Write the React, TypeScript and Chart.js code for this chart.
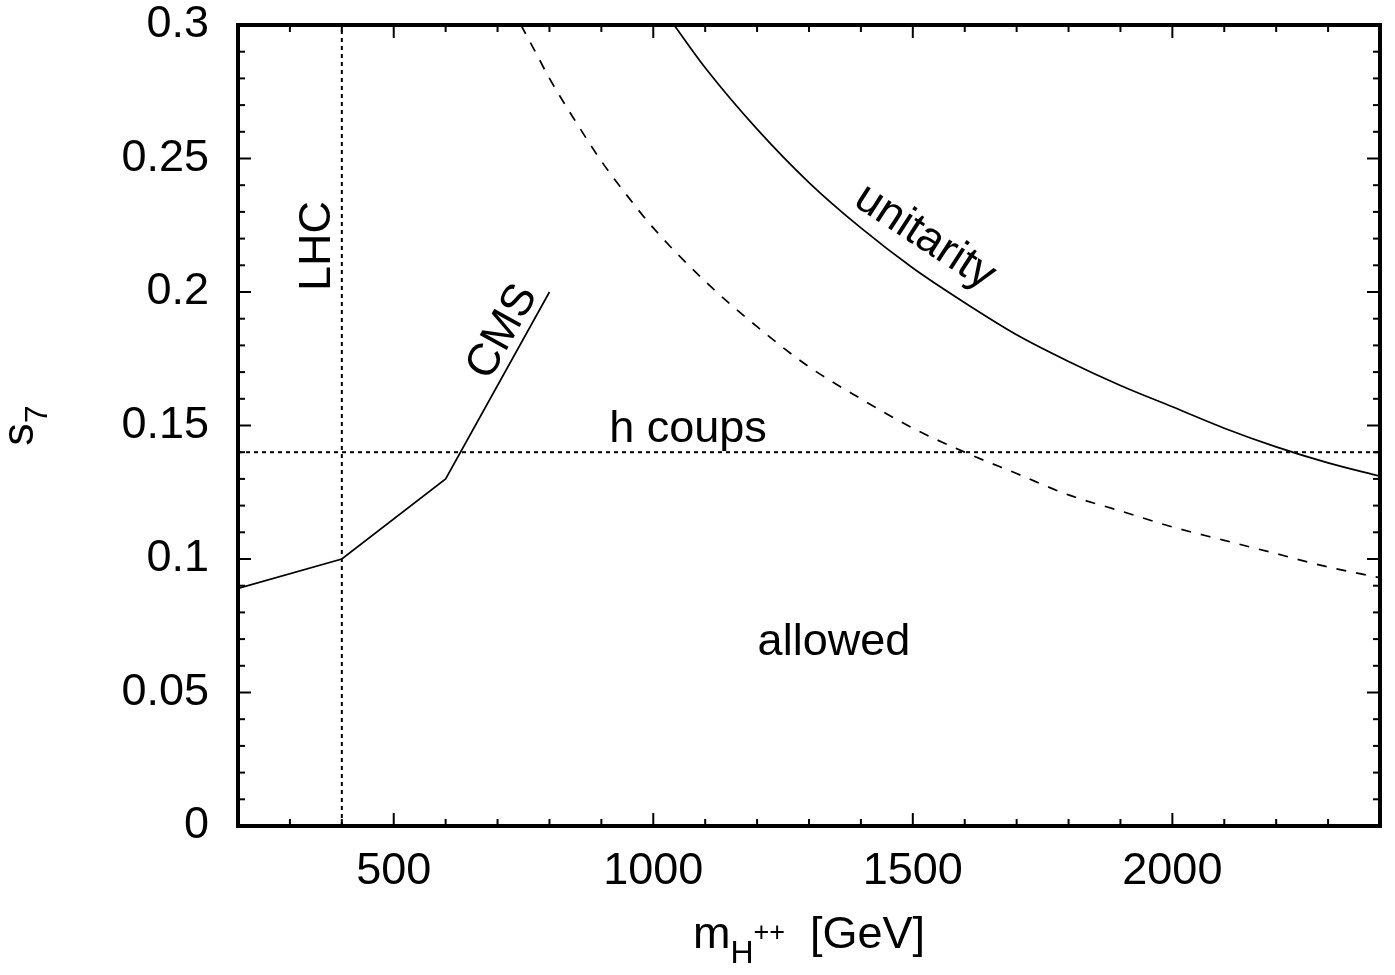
import React, { useEffect, useRef } from "react";
import { Chart, registerables } from "chart.js";

Chart.register(...registerables);

// ---- data ----
const xMajorTicks = [500, 1000, 1500, 2000];
const yMajorTicks = [0, 0.05, 0.1, 0.15, 0.2, 0.25, 0.3];
const yTickLabels = ["0", "0.05", "0.1", "0.15", "0.2", "0.25", "0.3"];

const cmsMass = [200, 400, 600, 800];
const cmsS7 = [0.089, 0.1, 0.13, 0.2];

const unitarityMass = [1040, 1100, 1200, 1300, 1400, 1500, 1600, 1700, 1800, 1900, 2000, 2100, 2200, 2300, 2400];
const unitarityS7 = [0.3, 0.284, 0.261, 0.241, 0.224, 0.209, 0.196, 0.184, 0.174, 0.165, 0.157, 0.149, 0.142, 0.136, 0.131];

const dashedMass = [745, 770, 800, 850, 900, 950, 1000, 1100, 1200, 1300, 1400, 1500, 1600, 1700, 1800, 1900, 2000, 2100, 2200, 2300, 2400];
const dashedS7 = [0.3, 0.291, 0.28, 0.264, 0.249, 0.236, 0.224, 0.204, 0.187, 0.172, 0.16, 0.149, 0.14, 0.132, 0.124, 0.118, 0.112, 0.107, 0.102, 0.097, 0.093];

const lhcMass = [400, 400];
const lhcS7 = [0, 0.3];

const hCoupsMass = [200, 2400];
const hCoupsS7 = [0.14, 0.14];

const annotationTexts = ["allowed", "h coups", "LHC", "CMS", "unitarity"];
const annotationMass = [1348, 1067, 377, 710, 1523];
const annotationS7 = [0.064, 0.1438, 0.2172, 0.185, 0.2206];

// ---- styling ----
const FONT = "'Liberation Sans', Arial, Helvetica, sans-serif";
const annotationStyle = [
  { rot: 0, baseline: "alphabetic" },
  { rot: 0, baseline: "alphabetic" },
  { rot: -90, baseline: "alphabetic" },
  { rot: -61, baseline: "middle" },
  { rot: 33, baseline: "middle" },
];

const pts = (xs: number[], ys: number[]) => xs.map((x, i) => ({ x, y: ys[i] }));

const framePlugin = {
  id: "frame",
  afterDraw(chart: any) {
    const { ctx, chartArea: a, scales } = chart;
    const x = scales.x;
    const y = scales.y;
    ctx.save();
    ctx.strokeStyle = "#000";
    ctx.lineWidth = 2;
    const major = 13;
    const minor = 7;
    const seg = (x1: number, y1: number, x2: number, y2: number) => {
      ctx.beginPath();
      ctx.moveTo(x1, y1);
      ctx.lineTo(x2, y2);
      ctx.stroke();
    };
    for (let v = 300; v < 2400; v += 100) {
      const px = x.getPixelForValue(v);
      const len = xMajorTicks.includes(v) ? major : minor;
      seg(px, a.bottom, px, a.bottom - len);
      seg(px, a.top, px, a.top + len);
    }
    for (let i = 1; i < 30; i++) {
      const py = y.getPixelForValue(i / 100);
      const len = i % 5 === 0 ? major : minor;
      seg(a.left, py, a.left + len, py);
      seg(a.right, py, a.right - len, py);
    }
    ctx.lineWidth = 4;
    ctx.strokeRect(a.left, a.top, a.right - a.left, a.bottom - a.top);

    // annotations
    ctx.fillStyle = "#000";
    ctx.font = `45px ${FONT}`;
    ctx.textAlign = "center";
    annotationTexts.forEach((t, i) => {
      const px = x.getPixelForValue(annotationMass[i]);
      const py = y.getPixelForValue(annotationS7[i]);
      const st = annotationStyle[i];
      ctx.save();
      ctx.translate(px, py);
      ctx.rotate((st.rot * Math.PI) / 180);
      ctx.textBaseline = st.baseline;
      ctx.fillText(t, 0, 0);
      ctx.restore();
    });

    // x title: m_{H^{++}}  [GeV]
    ctx.textAlign = "left";
    ctx.textBaseline = "alphabetic";
    const base = 948;
    const big = `45px ${FONT}`;
    const sub = `32px ${FONT}`;
    const sup = `27px ${FONT}`;
    ctx.font = big;
    const wM = ctx.measureText("m").width;
    const wG = ctx.measureText("  [GeV]").width;
    ctx.font = sub;
    const wH = ctx.measureText("H").width;
    ctx.font = sup;
    const wP = ctx.measureText("++").width;
    const total = wM + wH + wP + wG;
    let cx = (a.left + a.right) / 2 - total / 2;
    ctx.font = big;
    ctx.fillText("m", cx, base);
    cx += wM;
    ctx.font = sub;
    ctx.fillText("H", cx, base + 15);
    cx += wH;
    ctx.font = sup;
    ctx.fillText("++", cx, base - 7);
    cx += wP;
    ctx.font = big;
    ctx.fillText("  [GeV]", cx, base);

    // y title: s_7
    ctx.save();
    ctx.translate(33, (a.top + a.bottom) / 2);
    ctx.rotate(-Math.PI / 2);
    ctx.font = big;
    const wS = ctx.measureText("s").width;
    ctx.font = sub;
    const w7 = ctx.measureText("7").width;
    const start = -(wS + w7) / 2;
    ctx.font = big;
    ctx.fillText("s", start, 0);
    ctx.font = sub;
    ctx.fillText("7", start + wS, 14);
    ctx.restore();

    ctx.restore();
  },
};

export default function App() {
  const canvasRef = useRef<HTMLCanvasElement | null>(null);

  useEffect(() => {
    if (!canvasRef.current) return;
    const lineDs = (data: any, dash: number[], width: number, smooth: boolean) => ({
      data,
      showLine: true,
      borderColor: "#000",
      backgroundColor: "#000",
      borderWidth: width,
      borderDash: dash,
      pointRadius: 0,
      pointHoverRadius: 0,
      fill: false,
      tension: smooth ? 0.4 : 0,
      cubicInterpolationMode: smooth ? "monotone" : "default",
    });
    const chart = new Chart(canvasRef.current, {
      type: "scatter",
      data: {
        datasets: [
          lineDs(pts(cmsMass, cmsS7), [], 1.7, false),
          lineDs(pts(unitarityMass, unitarityS7), [], 1.7, true),
          lineDs(pts(dashedMass, dashedS7), [10, 10], 1.7, true),
          lineDs(pts(lhcMass, lhcS7), [4, 4], 2, false),
          lineDs(pts(hCoupsMass, hCoupsS7), [4, 4], 2, false),
        ],
      },
      options: {
        animation: false,
        responsive: true,
        maintainAspectRatio: false,
        devicePixelRatio: 1,
        layout: { padding: { top: 25, right: 15, left: 0, bottom: 0 } },
        plugins: { legend: { display: false }, tooltip: { enabled: false } },
        events: [],
        scales: {
          x: {
            type: "linear",
            min: 200,
            max: 2400,
            grid: { display: false, drawTicks: false },
            border: { display: false },
            afterBuildTicks: (s: any) => {
              s.ticks = xMajorTicks.map((v) => ({ value: v }));
            },
            afterFit: (s: any) => {
              s.height = 149;
              s.paddingLeft = 0;
              s.paddingRight = 0;
            },
            ticks: {
              color: "#000",
              font: { family: FONT, size: 45 },
              padding: 19,
              maxRotation: 0,
              autoSkip: false,
              callback: (v: any) => String(v),
            },
          },
          y: {
            type: "linear",
            min: 0,
            max: 0.3,
            grid: { display: false, drawTicks: false },
            border: { display: false },
            afterBuildTicks: (s: any) => {
              s.ticks = yMajorTicks.map((v) => ({ value: v }));
            },
            afterFit: (s: any) => {
              s.width = 238;
              s.paddingTop = 0;
              s.paddingBottom = 0;
            },
            ticks: {
              color: "#000",
              font: { family: FONT, size: 45 },
              padding: 29,
              autoSkip: false,
              callback: (v: any) => {
                const i = yMajorTicks.findIndex((t) => Math.abs(t - v) < 1e-9);
                return i >= 0 ? yTickLabels[i] : "";
              },
            },
          },
        },
      },
      plugins: [framePlugin],
    });
    return () => chart.destroy();
  }, []);

  return (
    <div style={{ position: "fixed", left: 0, top: 0, width: 1395, height: 975, background: "#fff" }}>
      <canvas ref={canvasRef} />
    </div>
  );
}
